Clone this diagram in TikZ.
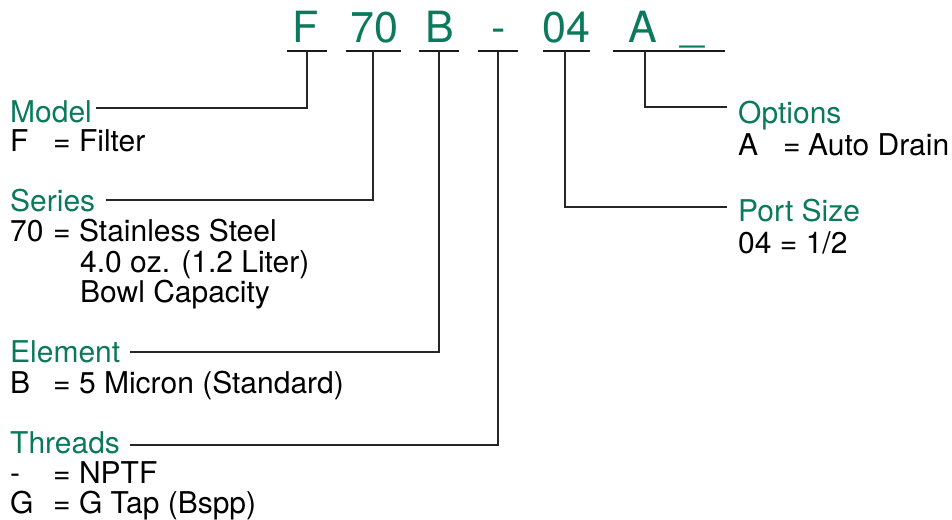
\documentclass[tikz,border=0pt]{standalone}
\usepackage{fontspec}
\setmainfont{TeX Gyre Heros}
\definecolor{codegreen}{HTML}{0B7A5C}
\begin{document}
\begin{tikzpicture}[x=1pt,y=-1pt,
  code/.style={text=codegreen, font=\fontsize{43}{50}\selectfont, inner sep=0pt, anchor=base},
  head/.style={text=codegreen, font=\fontsize{30}{36}\selectfont, inner sep=0pt, anchor=base west},
  body/.style={text=black, font=\fontsize{30}{36}\selectfont, inner sep=0pt, anchor=base west},
  uline/.style={line width=2.7pt, draw=black!90},
  conn/.style={line width=1.3pt, draw=black!85}]
\useasboundingbox (0,0) rectangle (952,519);

% code letters
\node[code] (cF) at (306,43) {F};
\node[code] (c70) at (374,43) {70};
\node[code] (cB) at (440,43) {B};
\node[code] (cDash) at (499,43) {-};
\node[code] (c04) at (566,43) {04};
\node[code] (cA) at (643,43) {A};
\node[code] (cU) at (692,41) {\_};

% underlines
\coordinate (uFl) at (287,51);  \coordinate (uFr) at (327,51);  \coordinate (uF) at (307,51);
\coordinate (u70l) at (346,51); \coordinate (u70r) at (401,51); \coordinate (u70) at (373,51);
\coordinate (uBl) at (419,51);  \coordinate (uBr) at (459,51);  \coordinate (uB) at (439,51);
\coordinate (uDl) at (478,51);  \coordinate (uDr) at (518,51);  \coordinate (uD) at (498,51);
\coordinate (u04l) at (543,51); \coordinate (u04r) at (590,51); \coordinate (u04) at (565,51);
\coordinate (uAl) at (613,51);  \coordinate (uAr) at (725,51);  \coordinate (uA) at (645,51);
\draw[uline] (uFl) -- (uFr);
\draw[uline] (u70l) -- (u70r);
\draw[uline] (uBl) -- (uBr);
\draw[uline] (uDl) -- (uDr);
\draw[uline] (u04l) -- (u04r);
\draw[uline] (uAl) -- (uAr);

% left descriptions
\node[head] (model) at (10,122) {Model};
\node[body] (mk) at (10,151) {F};
\node[body] (mv) at (53,151) {= Filter};

\node[head] (series) at (10,211) {Series};
\node[body] (sk) at (10,241) {70};
\node[body] (sv) at (53,241) {= Stainless Steel};
\node[body] (sv2) at (80,272) {4.0 oz. (1.2 Liter)};
\node[body] (sv3) at (80,302) {Bowl Capacity};

\node[head] (element) at (10,362) {Element};
\node[body] (ek) at (10,393) {B};
\node[body] (ev) at (53,393) {= 5 Micron (Standard)};

\node[head] (threads) at (10,453) {Threads};
\node[body] (tk) at (10,483) {-};
\node[body] (tv) at (53,483) {= NPTF};
\node[body] (tk2) at (10,513) {G};
\node[body] (tv2) at (53,513) {= G Tap (Bspp)};

% right descriptions
\node[head] (options) at (738,123) {Options};
\node[body] (ok) at (738,155) {A};
\node[body] (oeq) at (783,155) {=};
\node[body] (ov) at (808,155) {Auto Drain};

\node[head] (port) at (738,221) {Port Size};
\node[body] (pv) at (738,253) {04 = 1/2};

% connector ends
\coordinate (eModel) at ([xshift=4pt]model.east |- 0,108);
\coordinate (eSeries) at ([xshift=11pt]series.east |- 0,200);
\coordinate (eElement) at ([xshift=10pt]element.east |- 0,352);
\coordinate (eThreads) at ([xshift=10pt]threads.east |- 0,445);
\coordinate (eOptions) at ([xshift=-11pt]options.west |- 0,107);
\coordinate (ePort) at ([xshift=-11pt]port.west |- 0,207);

\draw[conn] (uF) |- (eModel);
\draw[conn] (u70) |- (eSeries);
\draw[conn] (uB) |- (eElement);
\draw[conn] (uD) |- (eThreads);
\draw[conn] (uA) |- (eOptions);
\draw[conn] (u04) |- (ePort);
\end{tikzpicture}
\end{document}
